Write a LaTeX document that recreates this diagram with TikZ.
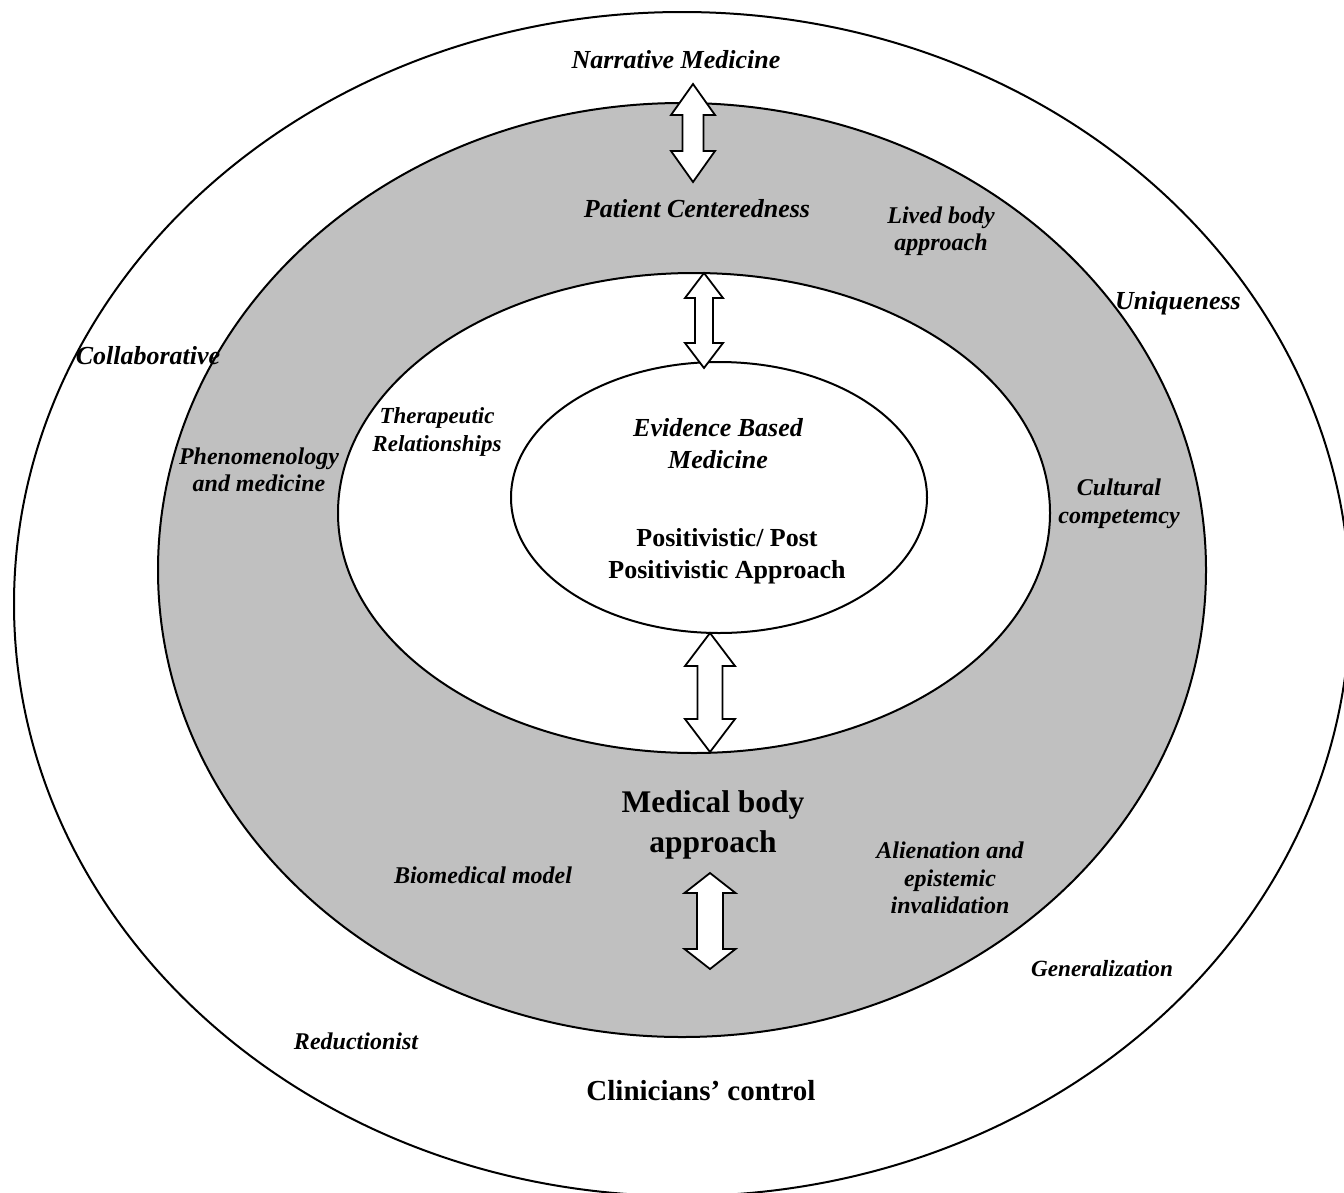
\documentclass[tikz,border=0pt]{standalone}
\usepackage{fontspec}
\setmainfont{Liberation Serif}
\definecolor{ringgray}{RGB}{192,192,192}
\newcommand{\dblarrowshape}[6]{% x, ytop, ybot, headhalf, shafthalf, headlen
  \draw[arrowbox] (#1,#2) -- (#1+#4,#2+#6) -- (#1+#5,#2+#6) -- (#1+#5,#3-#6)
    -- (#1+#4,#3-#6) -- (#1,#3) -- (#1-#4,#3-#6) -- (#1-#5,#3-#6)
    -- (#1-#5,#2+#6) -- (#1-#4,#2+#6) -- cycle;}
\begin{document}
\begin{tikzpicture}[x=1pt,y=-1pt,
  ring/.style={draw=black, line width=2pt},
  arrowbox/.style={draw=black, fill=white, line width=1.8pt, line join=miter},
  lbl/.style={font=\bfseries\itshape\fontsize{26}{32}\selectfont, align=center, inner sep=0pt},
  lblm/.style={font=\bfseries\itshape\fontsize{24}{27.5}\selectfont, align=center, inner sep=0pt},
  bld/.style={font=\bfseries\fontsize{26}{32}\selectfont, align=center, inner sep=0pt}]
\useasboundingbox (0,0) rectangle (1344,1192);
\clip (0,0) rectangle (1344,1192);
\fill[white] (0,0) rectangle (1344,1192);
% rings
\draw[ring, fill=white] (682,604) ellipse [x radius=668, y radius=592];
\draw[ring, fill=ringgray] (682,570) ellipse [x radius=524, y radius=467];
\draw[ring, fill=white] (694,513) ellipse [x radius=356, y radius=240];
\draw[ring, fill=white] (719,497.5) ellipse [x radius=208, y radius=135.5];
% double arrows
\dblarrowshape{693}{84}{182}{22}{10.5}{31}
\dblarrowshape{704}{273}{368}{19}{9}{25}
\dblarrowshape{710}{633}{752}{25}{12.5}{33}
\dblarrowshape{710}{873}{969}{25.5}{13}{20}
% labels
\node[lbl] (narr) at (676,60) {Narrative Medicine};
\node[lbl] (pc) at (697,209) {Patient Centeredness};
\node[lblm] (lived) at (941,231) {Lived body\\approach};
\node[lbl] (uniq) at (1178,303) {Uniqueness};
\node[lbl] (collab) at (148,356) {Collaborative};
\node[lblm, font=\bfseries\itshape\fontsize{23}{28}\selectfont] (thera) at (437,432) {Therapeutic\\Relationships};
\node[lblm] (phen) at (259,470) {Phenomenology\\and medicine};
\node[lbl] (ebm) at (718,444) {Evidence Based\\Medicine};
\node[bld] (pos) at (727,556) {Positivistic/ Post\\Positivistic Approach};
\node[lblm, font=\bfseries\itshape\fontsize{24}{28}\selectfont] (cult) at (1119,504) {Cultural\\competemcy};
\node[bld, font=\bfseries\fontsize{31.5}{40}\selectfont] (mba) at (713,825) {Medical body\\approach};
\node[lblm] (bio) at (483,875) {Biomedical model};
\node[lblm] (alien) at (950,878) {Alienation and\\epistemic\\invalidation};
\node[lblm, font=\bfseries\itshape\fontsize{23.2}{26}\selectfont] (gen) at (1102,969) {Generalization};
\node[lblm] (red) at (356,1041) {Reductionist};
\node[bld, font=\bfseries\fontsize{29}{32}\selectfont] (clin) at (701,1091) {Clinicians’ control};
\end{tikzpicture}
\end{document}
